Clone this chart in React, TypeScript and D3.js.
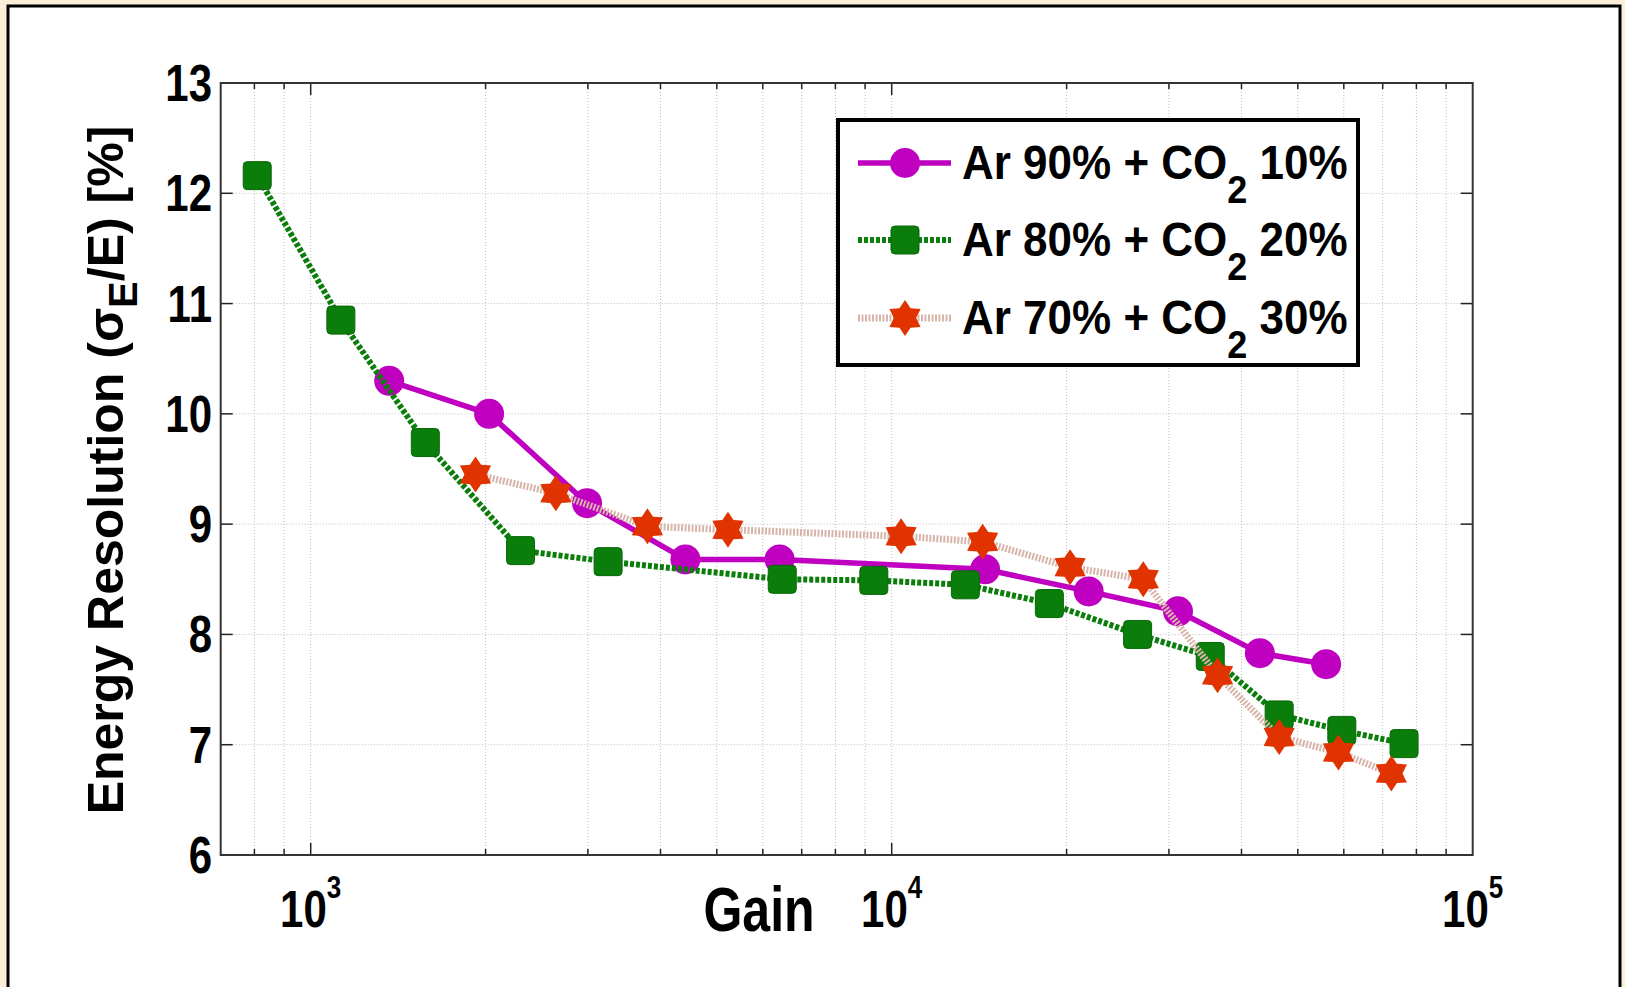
import React, { useEffect, useRef } from 'react';
import * as d3 from 'd3';

// values
const gains90 = [1365, 2028, 2990, 4415, 6413, 14480, 21830, 31100, 43020, 55940];
const res90 = [10.3, 10.0, 9.19, 8.68, 8.68, 8.59, 8.39, 8.21, 7.83, 7.73];

const gains80 = [809, 1127, 1575, 2297, 3250, 6481, 9316, 13390, 18680, 26500, 35340, 46440, 59530, 76180];
const res80 = [12.16, 10.85, 9.74, 8.76, 8.66, 8.5, 8.49, 8.45, 8.28, 8.0, 7.8, 7.27, 7.13, 7.01];

const gains70 = [1922, 2642, 3798, 5226, 10380, 14340, 20280, 27100, 36380, 46440, 58740, 72440];
const res70 = [9.45, 9.28, 8.98, 8.95, 8.89, 8.84, 8.61, 8.5, 7.63, 7.07, 6.93, 6.74];

const yTicks = [6, 7, 8, 9, 10, 11, 12, 13];
const xMajor = [1e3, 1e4, 1e5];
const legendLabels = [
  { pre: 'Ar 90% + CO', post: ' 10%' },
  { pre: 'Ar 80% + CO', post: ' 20%' },
  { pre: 'Ar 70% + CO', post: ' 30%' },
];

type Series = {
  gains: number[];
  res: number[];
  color: string;
  lineColor: string;
  width: number;
  dash: string | null;
  marker: 'circle' | 'square' | 'hexagram';
};

const series: Series[] = [
  { gains: gains90, res: res90, color: '#c000c0', lineColor: '#c000c0', width: 5.5, dash: null, marker: 'circle' },
  { gains: gains80, res: res80, color: '#0a7d0a', lineColor: '#0a7d0a', width: 6, dash: '4,2', marker: 'square' },
  { gains: gains70, res: res70, color: '#e03300', lineColor: '#d8b5aa', width: 7, dash: '2,1.5', marker: 'hexagram' },
];

// the lettering in the picture is a bit taller than plain Arial
const stretch = (sel: d3.Selection<SVGTextElement, unknown, null, undefined>, x: number, y: number, s: number) =>
  sel.attr('transform', `translate(${x},${y}) scale(1,${s})`);

function hexagram(r: number) {
  const pts: [number, number][] = [];
  const inner = r * 0.62;
  for (let i = 0; i < 12; i++) {
    const a = -Math.PI / 2 + (i * Math.PI) / 6;
    const rr = i % 2 === 0 ? r : inner;
    pts.push([rr * Math.cos(a), rr * Math.sin(a)]);
  }
  return 'M' + pts.map((p) => p.join(',')).join('L') + 'Z';
}

function drawMarker(g: d3.Selection<SVGGElement, unknown, null, undefined>, s: Series, cx: number, cy: number) {
  if (s.marker === 'circle') {
    g.append('circle').attr('cx', cx).attr('cy', cy).attr('r', 15).attr('fill', s.color);
  } else if (s.marker === 'square') {
    g.append('rect')
      .attr('x', cx - 14)
      .attr('y', cy - 14)
      .attr('width', 28)
      .attr('height', 28)
      .attr('rx', 4)
      .attr('fill', s.color)
      .attr('stroke', '#086808')
      .attr('stroke-width', 1);
  } else {
    g.append('path')
      .attr('d', hexagram(18))
      .attr('transform', `translate(${cx},${cy})`)
      .attr('fill', s.color);
  }
}

const App: React.FC = () => {
  const svgRef = useRef<SVGSVGElement | null>(null);

  useEffect(() => {
    const width = 1625;
    const height = 987;
    const left = 220.7;
    const right = 1472.7;
    const top = 83;
    const bottom = 855;

    const svg = d3.select(svgRef.current);
    svg.selectAll('*').remove();
    svg.attr('width', width).attr('height', height).style('font-family', '"Liberation Sans", Arial, sans-serif');

    // background and frame
    svg.append('rect').attr('width', width).attr('height', height).attr('fill', '#fcefd9');
    svg
      .append('rect')
      .attr('x', 8)
      .attr('y', 6)
      .attr('width', 1612)
      .attr('height', 1000)
      .attr('fill', '#ffffff')
      .attr('stroke', '#000')
      .attr('stroke-width', 3);

    const x = d3.scaleLog().domain([700, 1e5]).range([left, right]);
    const y = d3.scaleLinear().domain([6, 13]).range([bottom, top]);

    const xAll = x.ticks();
    const isMajor = (v: number) => xMajor.some((m) => Math.abs(m - v) < 1e-6);

    // grid
    const grid = svg
      .append('g')
      .attr('stroke', '#bdbdbd')
      .attr('stroke-width', 1)
      .attr('stroke-dasharray', '1,2');
    xAll
      .filter((v) => v > 700 && v < 1e5)
      .forEach((v) => {
        grid.append('line').attr('x1', x(v)).attr('x2', x(v)).attr('y1', top).attr('y2', bottom);
      });
    yTicks
      .filter((v) => v > 6 && v < 13)
      .forEach((v) => {
        grid.append('line').attr('x1', left).attr('x2', right).attr('y1', y(v)).attr('y2', y(v));
      });

    // ticks
    const ticks = svg.append('g').attr('stroke', '#222').attr('stroke-width', 1.5);
    xAll
      .filter((v) => v > 700 && v < 1e5)
      .forEach((v) => {
        const len = isMajor(v) ? 12 : 6;
        ticks.append('line').attr('x1', x(v)).attr('x2', x(v)).attr('y1', bottom).attr('y2', bottom - len);
        ticks.append('line').attr('x1', x(v)).attr('x2', x(v)).attr('y1', top).attr('y2', top + len);
      });
    yTicks.forEach((v) => {
      ticks.append('line').attr('x1', left).attr('x2', left + 12).attr('y1', y(v)).attr('y2', y(v));
      ticks.append('line').attr('x1', right).attr('x2', right - 12).attr('y1', y(v)).attr('y2', y(v));
    });

    // axes box
    svg
      .append('rect')
      .attr('x', left)
      .attr('y', top)
      .attr('width', right - left)
      .attr('height', bottom - top)
      .attr('fill', 'none')
      .attr('stroke', '#333')
      .attr('stroke-width', 2);

    // tick labels
    yTicks.forEach((v) => {
      const t = svg
        .append('text')
        .attr('text-anchor', 'end')
        .attr('font-size', 42)
        .attr('font-weight', 'bold')
        .text(v);
      stretch(t, 212, y(v) + 18, 1.22);
    });
    xMajor.forEach((v) => {
      const t = svg
        .append('text')
        .attr('text-anchor', 'middle')
        .attr('font-weight', 'bold');
      t.append('tspan').attr('font-size', 42).text('10');
      t.append('tspan').attr('font-size', 26).attr('dy', -24).text(Math.round(Math.log10(v)));
      stretch(t, x(v), 927, 1.22);
    });

    // axis labels
    const gl = svg
      .append('text')
      .attr('text-anchor', 'middle')
      .attr('font-size', 50)
      .attr('font-weight', 'bold')
      .text('Gain');
    stretch(gl, 759, 931, 1.25);

    const yl = svg
      .append('text')
      .attr('transform', 'translate(123,470) rotate(-90)')
      .attr('text-anchor', 'middle')
      .attr('font-size', 50)
      .attr('font-weight', 'bold');
    yl.append('tspan').text('Energy Resolution (σ');
    yl.append('tspan').attr('font-size', 40).attr('dy', 14).text('E');
    yl.append('tspan').attr('dy', -14).text('/E) [%]');

    // series
    const plot = svg.append('g');
    series.forEach((s) => {
      const pts = s.gains.map((g, i) => [x(g), y(s.res[i])] as [number, number]);
      const line = d3.line<[number, number]>();
      plot
        .append('path')
        .attr('d', line(pts))
        .attr('fill', 'none')
        .attr('stroke', s.lineColor)
        .attr('stroke-width', s.width)
        .attr('stroke-dasharray', s.dash)
        .attr('stroke-linejoin', 'round');
      const mg = plot.append('g');
      pts.forEach((p) => drawMarker(mg, s, p[0], p[1]));
    });

    // legend
    const lg = svg.append('g');
    lg.append('rect')
      .attr('x', 838)
      .attr('y', 120)
      .attr('width', 520)
      .attr('height', 245)
      .attr('fill', '#fff')
      .attr('stroke', '#000')
      .attr('stroke-width', 4);
    const rowY = [163, 240, 318];
    series.forEach((s, i) => {
      const cy = rowY[i];
      lg.append('line')
        .attr('x1', 858)
        .attr('x2', 951)
        .attr('y1', cy)
        .attr('y2', cy)
        .attr('stroke', s.lineColor)
        .attr('stroke-width', s.width)
        .attr('stroke-dasharray', s.dash);
      drawMarker(lg, s, 905, cy);
      const t = lg
        .append('text')
        .attr('font-size', 44)
        .attr('font-weight', 'bold');
      t.append('tspan').text(legendLabels[i].pre);
      t.append('tspan').attr('font-size', 36).attr('dy', 22).text('2');
      t.append('tspan').attr('dy', -22).text(legendLabels[i].post);
      stretch(t, 962, cy + 16, 1.1);
    });
  }, []);

  return <svg ref={svgRef} style={{ position: 'absolute', left: 0, top: 0 }} />;
};

export default App;
